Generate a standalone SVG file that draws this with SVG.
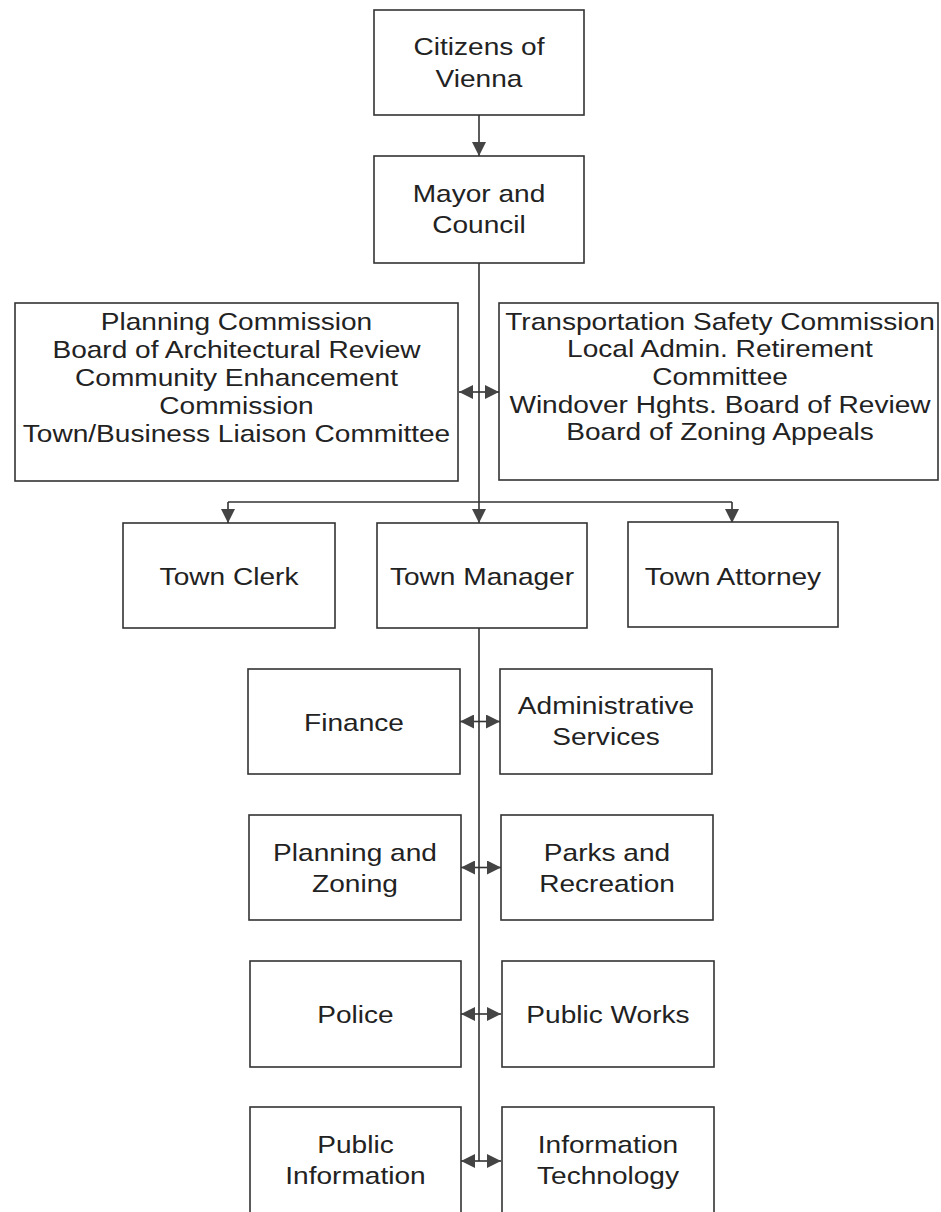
<svg xmlns="http://www.w3.org/2000/svg" width="941" height="1212" viewBox="0 0 941 1212">
<style>
.box{fill:#fff;stroke:#333;stroke-width:1.6}
.t{font-family:"Liberation Sans",Arial,sans-serif;font-size:24px;fill:#222;text-anchor:middle}
.ln{fill:none;stroke:#333;stroke-width:1.6}
</style>
<defs>
<marker id="ah" viewBox="0 0 14 14" markerUnits="userSpaceOnUse" markerWidth="14" markerHeight="14" refX="14" refY="7" orient="auto">
<path d="M0,0 L14,7 L0,14 z" fill="#444"/>
</marker>
</defs>
<rect width="941" height="1212" fill="#fff"/>
<g id="connectors">
<path class="ln" d="M479,115 V156" marker-end="url(#ah)"/>
<path class="ln" d="M479,263 V523" marker-end="url(#ah)"/>
<path class="ln" d="M228,502 H732"/>
<path class="ln" d="M228,502 V523" marker-end="url(#ah)"/>
<path class="ln" d="M732,502 V523" marker-end="url(#ah)"/>
<path class="ln" d="M479,392 H459" marker-end="url(#ah)"/>
<path class="ln" d="M479,392 H499" marker-end="url(#ah)"/>
<path class="ln" d="M479,628 V1161"/>
<path class="ln" d="M479,721.5 H460" marker-end="url(#ah)"/>
<path class="ln" d="M479,721.5 H500" marker-end="url(#ah)"/>
<path class="ln" d="M479,867.5 H461" marker-end="url(#ah)"/>
<path class="ln" d="M479,867.5 H501" marker-end="url(#ah)"/>
<path class="ln" d="M479,1014 H461" marker-end="url(#ah)"/>
<path class="ln" d="M479,1014 H501" marker-end="url(#ah)"/>
<path class="ln" d="M479,1161 H461" marker-end="url(#ah)"/>
<path class="ln" d="M479,1161 H501" marker-end="url(#ah)"/>
</g>
<g id="citizens">
<rect class="box" x="374" y="10" width="210" height="105"/>
<text class="t" transform="translate(479 0) scale(1.17 1)" y="55">Citizens of</text>
<text class="t" transform="translate(479 0) scale(1.17 1)" y="87">Vienna</text>
</g>
<g id="mayor">
<rect class="box" x="374" y="156" width="210" height="107"/>
<text class="t" transform="translate(479 0) scale(1.17 1)" y="202">Mayor and</text>
<text class="t" transform="translate(479 0) scale(1.17 1)" y="233">Council</text>
</g>
<g id="boards-left">
<rect class="box" x="15" y="303" width="443" height="178"/>
<text class="t" transform="translate(236.5 0) scale(1.17 1)" y="330">Planning Commission</text>
<text class="t" transform="translate(236.5 0) scale(1.17 1)" y="358">Board of Architectural Review</text>
<text class="t" transform="translate(236.5 0) scale(1.17 1)" y="386">Community Enhancement</text>
<text class="t" transform="translate(236.5 0) scale(1.17 1)" y="414">Commission</text>
<text class="t" transform="translate(236.5 0) scale(1.17 1)" y="442">Town/Business Liaison Committee</text>
</g>
<g id="boards-right">
<rect class="box" x="499" y="303" width="439" height="177"/>
<text class="t" transform="translate(720 0) scale(1.17 1)" y="330">Transportation Safety Commission</text>
<text class="t" transform="translate(720 0) scale(1.17 1)" y="357">Local Admin. Retirement</text>
<text class="t" transform="translate(720 0) scale(1.17 1)" y="385">Committee</text>
<text class="t" transform="translate(720 0) scale(1.17 1)" y="413">Windover Hghts. Board of Review</text>
<text class="t" transform="translate(720 0) scale(1.17 1)" y="440">Board of Zoning Appeals</text>
</g>
<g id="town-clerk">
<rect class="box" x="123" y="523" width="212" height="105"/>
<text class="t" transform="translate(229 0) scale(1.17 1)" y="585">Town Clerk</text>
</g>
<g id="town-manager">
<rect class="box" x="377" y="523" width="210" height="105"/>
<text class="t" transform="translate(482 0) scale(1.17 1)" y="585">Town Manager</text>
</g>
<g id="town-attorney">
<rect class="box" x="628" y="522" width="210" height="105"/>
<text class="t" transform="translate(733 0) scale(1.17 1)" y="585">Town Attorney</text>
</g>
<g id="finance">
<rect class="box" x="248" y="669" width="212" height="105"/>
<text class="t" transform="translate(354 0) scale(1.17 1)" y="731">Finance</text>
</g>
<g id="admin-services">
<rect class="box" x="500" y="669" width="212" height="105"/>
<text class="t" transform="translate(606 0) scale(1.17 1)" y="714">Administrative</text>
<text class="t" transform="translate(606 0) scale(1.17 1)" y="745">Services</text>
</g>
<g id="planning-zoning">
<rect class="box" x="249" y="815" width="212" height="105"/>
<text class="t" transform="translate(355 0) scale(1.17 1)" y="861">Planning and</text>
<text class="t" transform="translate(355 0) scale(1.17 1)" y="892">Zoning</text>
</g>
<g id="parks-recreation">
<rect class="box" x="501" y="815" width="212" height="105"/>
<text class="t" transform="translate(607 0) scale(1.17 1)" y="861">Parks and</text>
<text class="t" transform="translate(607 0) scale(1.17 1)" y="892">Recreation</text>
</g>
<g id="police">
<rect class="box" x="250" y="961" width="211" height="106"/>
<text class="t" transform="translate(355.5 0) scale(1.17 1)" y="1023">Police</text>
</g>
<g id="public-works">
<rect class="box" x="502" y="961" width="212" height="106"/>
<text class="t" transform="translate(608 0) scale(1.17 1)" y="1023">Public Works</text>
</g>
<g id="public-information">
<rect class="box" x="250" y="1107" width="211" height="108"/>
<text class="t" transform="translate(355.5 0) scale(1.17 1)" y="1153">Public</text>
<text class="t" transform="translate(355.5 0) scale(1.17 1)" y="1184">Information</text>
</g>
<g id="information-technology">
<rect class="box" x="502" y="1107" width="212" height="108"/>
<text class="t" transform="translate(608 0) scale(1.17 1)" y="1153">Information</text>
<text class="t" transform="translate(608 0) scale(1.17 1)" y="1184">Technology</text>
</g>
</svg>
